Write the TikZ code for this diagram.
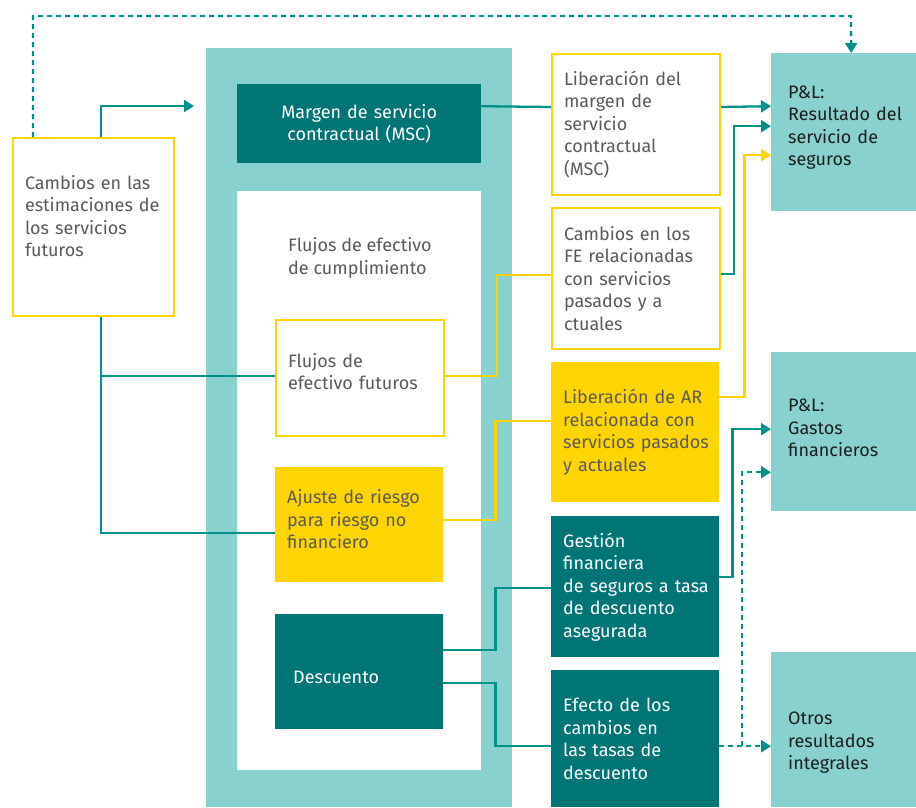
\documentclass[tikz,border=0pt]{standalone}
\usepackage{fontspec}
\setmainfont{Fira Sans}
\usetikzlibrary{arrows.meta,calc}
\definecolor{lteal}{HTML}{88D1CE}
\definecolor{dteal}{HTML}{007575}
\definecolor{lnteal}{HTML}{00918A}
\definecolor{eyyel}{HTML}{FFD500}
\definecolor{txtgrey}{HTML}{5A5A5A}
\definecolor{txtdark}{HTML}{1E1E1E}
\begin{document}
\begin{tikzpicture}[x=1pt,y=-1pt,
 box/.style={rectangle, inner xsep=12pt, inner ysep=0pt, align=left,
   font=\fontsize{18}{22.5}\selectfont, anchor=north west},
 ybox/.style={box, draw=eyyel, line width=2pt, fill=white, text=txtgrey},
 yfill/.style={box, fill=eyyel, text=txtgrey},
 dbox/.style={box, fill=dteal, text=white},
 plbox/.style={box, fill=lteal, text=txtdark, inner xsep=17pt},
 txtup/.style={execute at end node={\endgraf\vspace{#1}}},
 conn/.style={draw=lnteal, line width=2.3pt},
 yconn/.style={draw=eyyel, line width=2.3pt},
 arr/.style={-{Triangle[length=10pt,width=12pt]}},
 dots/.style={dash pattern=on 5pt off 4pt}
]
\useasboundingbox[fill=white] (0,0) rectangle (916,807);
% containers
\node[fill=lteal, inner sep=0, minimum width=306, minimum height=759, anchor=north west] (fcf) at (206,48) {};
\node[fill=white, inner sep=0, minimum width=244, minimum height=579, anchor=north west] (cumpl) at (237,191) {};
\node[anchor=west, align=left, text=txtgrey, inner sep=0, font=\fontsize{18}{22.5}\selectfont] (cumpltxt) at (288,258) {Flujos de efectivo\\de cumplimiento};
% left
\node[ybox, txtup=22pt, minimum width=161, minimum height=178, text width=137] (cambios) at (12,137) {Cambios en las\\\mbox{estimaciones de}\\los servicios\\futuros};
% middle
\node[dbox, align=center, minimum width=244, minimum height=79, text width=220] (msc) at (237,84) {Margen de servicio\\contractual (MSC)};
\node[ybox, txtup=13pt, minimum width=168, minimum height=116, text width=144] (flujos) at (275,319) {Flujos de\\\mbox{efectivo futuros}};
\node[yfill, txtup=11pt, minimum width=168, minimum height=115, text width=144] (ajuste) at (275,467) {\mbox{Ajuste de riesgo}\\para riesgo no\\financiero};
\node[dbox, inner xsep=18pt, text height=23pt, minimum width=168, minimum height=115, text width=132] (desc) at (275,614) {Descuento};
% right column
\node[ybox, minimum width=168, minimum height=141, text width=144] (lib) at (551,53) {Liberación del\\margen de\\servicio\\contractual\\(MSC)};
\node[ybox, minimum width=168, minimum height=141, text width=144] (cfe) at (551,207) {Cambios en los\\\mbox{FE relacionadas}\\con servicios\\pasados y a\\ctuales};
\node[yfill, minimum width=168, minimum height=140, text width=144] (lar) at (551,362) {\mbox{Liberación de AR}\\\mbox{relacionada con}\\\mbox{servicios pasados}\\y actuales};
\node[dbox, minimum width=168, minimum height=141, text width=144] (gest) at (551,516) {Gestión\\financiera\\\mbox{de seguros a tasa}\\\mbox{de descuento}\\asegurada};
\node[dbox, minimum width=168, minimum height=137, text width=144] (efe) at (551,670) {Efecto de los\\cambios en\\las tasas de\\descuento};
% P&L
\node[plbox, txtup=9pt, minimum width=145, minimum height=158, text width=111] (pl1) at (771,53) {P\&L:\\\mbox{Resultado del}\\servicio de\\seguros};
\node[plbox, txtup=7pt, minimum width=145, minimum height=159, text width=111] (pl2) at (771,352) {P\&L:\\Gastos\\financieros};
\node[plbox, minimum width=145, minimum height=155, text width=111] (otros) at (771,652) {\mbox{}\\[16pt]Otros\\resultados\\integrales};
% free ends
\coordinate (mscin) at (194,106);
\coordinate (topR) at (851,16);
\coordinate (br) at (742,746);
% connectors
\draw[conn,arr] ([xshift=7.5pt]cambios.north) |- (mscin);
\draw[conn,dots,arr] ([xshift=-60.5pt]cambios.north) |- (topR) -- ([xshift=7.5pt]pl1.north);
\draw[conn] ([xshift=7.5pt]cambios.south) |- ([yshift=2pt]flujos.west);
\draw[conn] ([xshift=7.5pt]cambios.south) |- ([yshift=-8.5pt]ajuste.west);
\draw[conn] ([yshift=17.5pt]msc.east) -- ([yshift=17.5pt]lib.west);
\draw[conn,arr] ([yshift=17.5pt]lib.east) -- ([yshift=26pt]pl1.west);
\draw[conn,arr] ([yshift=4.5pt]cfe.east) -- ++(13,0) |- ([yshift=6pt]pl1.west);
\draw[yconn,arr] ([yshift=35pt]lar.east) -- ++(25,0) |- ([yshift=-23pt]pl1.west);
\draw[yconn] ([yshift=2pt]flujos.east) -- ++(52,0) |- ([yshift=3.5pt]cfe.west);
\draw[yconn] ([yshift=4.5pt]ajuste.east) -- ++(52,0) |- ([yshift=11pt]lar.west);
\draw[conn] ([yshift=21.5pt]desc.east) -- ++(52,0) |- ([yshift=-1.5pt]gest.west);
\draw[conn] ([yshift=-11.5pt]desc.east) -- ++(52,0) |- ([yshift=-7.5pt]efe.west);
\draw[conn,arr] ([yshift=9.5pt]gest.east) -- ++(13,0) |- ([yshift=2.5pt]pl2.west);
\draw[conn,dots,arr] ([yshift=-7.5pt]efe.east) -- ([yshift=-16.5pt]otros.west);
\draw[conn,dots,arr] (br) |- ([yshift=-40.5pt]pl2.west);
\end{tikzpicture}
\end{document}
